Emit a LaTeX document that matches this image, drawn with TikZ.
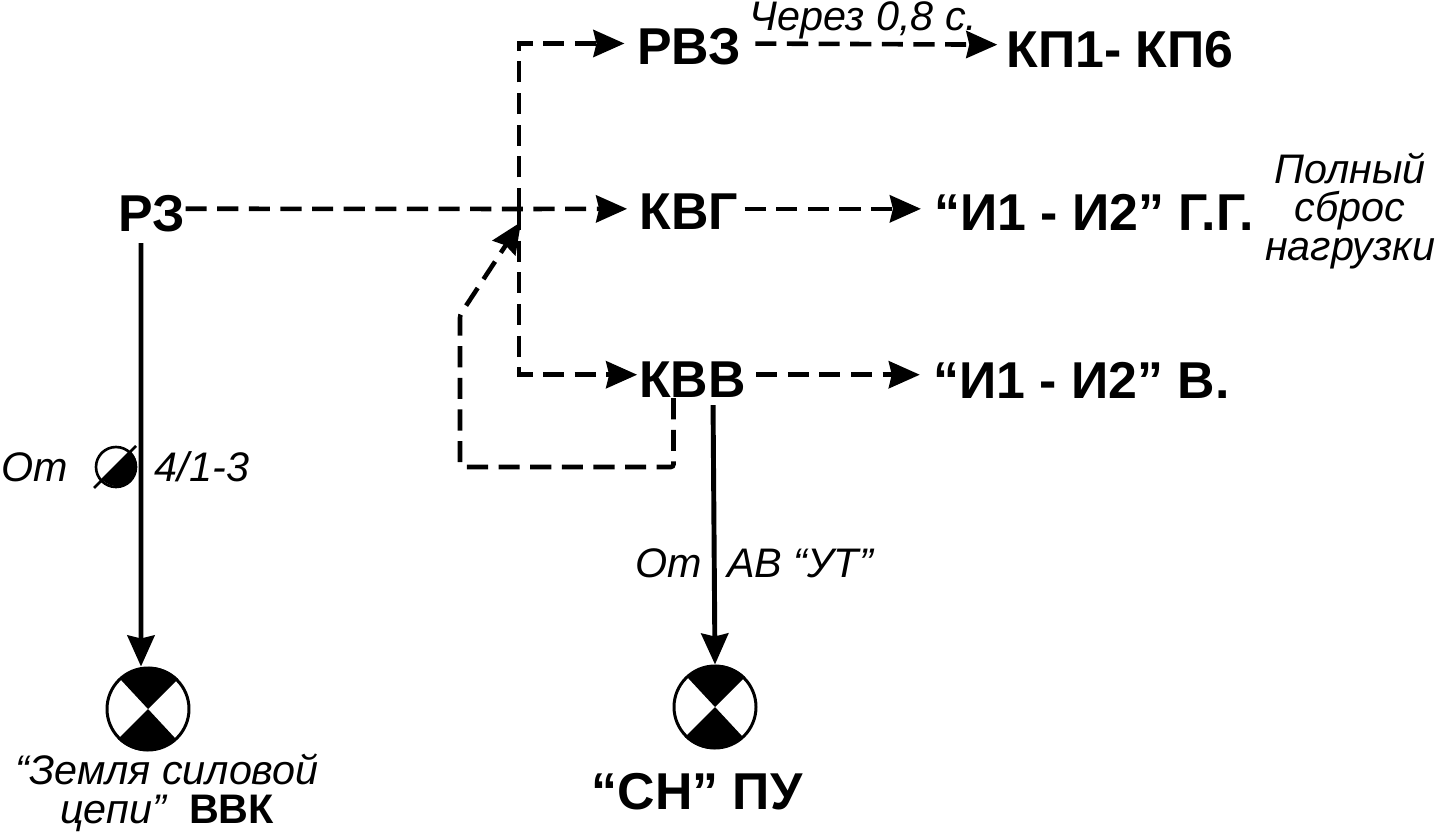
\documentclass[tikz,border=0pt]{standalone}
\usepackage{fontspec}
\setmainfont{Liberation Sans}
\usetikzlibrary{arrows.meta}
\tikzset{
  boldlbl/.style={inner sep=0pt, font=\fontsize{29.5}{32}\selectfont\bfseries},
  itlbl/.style={inner sep=0pt, align=center, font=\fontsize{23.5}{22}\selectfont\itshape},
  dashline/.style={line width=2.6pt, dash pattern=on 12pt off 6pt, -{Stealth[length=0.62cm,width=0.54cm,inset=0.06cm]}},
  solidline/.style={line width=2.8pt, -{Stealth[length=0.62cm,width=0.54cm,inset=0.06cm]}},
  lamp/.style={circle, draw, line width=1.7pt, inner sep=0pt, minimum size=1.64cm},
}
\begin{document}
\begin{tikzpicture}
\useasboundingbox (0,0) rectangle (28.7,16.62);

% relays
\node[boldlbl] (rz) at (3.04,12.34) {РЗ};
\node[boldlbl] (rvz) at (13.78,15.68) {РВЗ};
\node[boldlbl] (kp) at (22.4,15.62) {КП1- КП6};
\node[boldlbl] (kvg) at (13.78,12.38) {КВГ};
\node[boldlbl] (ivg) at (21.88,12.38) {“И1 - И2” Г.Г.};
\node[boldlbl] (kvv) at (13.85,9.02) {КВВ};
\node[boldlbl] (iv) at (21.63,9.02) {“И1 - И2” В.};

% italic labels
\node[itlbl] (delay) at (17.27,16.22) {Через 0,8 с.};
\node[itlbl] (sbros) at (27.0,12.4) {Полный\\сброс\\нагрузки};
\node[itlbl] (ot1) at (0.7,7.28) {От};
\node[itlbl] (num) at (4.04,7.28) {4/1-3};
\node[itlbl] (ot2) at (13.38,5.36) {От};
\node[itlbl] (ab) at (16.0,5.36) {АВ “УТ”};

% lamps
\node[lamp] (lampz) at (2.96,2.44) {};
\node[lamp] (lamps) at (14.3,2.48) {};
\foreach \lampname in {lampz,lamps}
  \foreach \a in {45,225}
    \fill (\lampname.center) -- (\lampname.\a) arc[start angle=\a, delta angle=90, radius=0.82cm] -- cycle;

\node[itlbl] (zem) at (3.34,0.76) {“Земля силовой\\цепи”~~{\upshape\bfseries ВВК}};
\node[boldlbl] (sn) at (13.94,0.78) {“СН” ПУ};

% half filled contact
\node[circle, draw, line width=1.5pt, inner sep=0pt, minimum size=0.8cm] (half) at (2.32,7.28) {};
\fill (half.45) arc[start angle=45, end angle=-135, radius=0.4cm] -- cycle;
\draw[line width=1.5pt] ([shift={(-0.44,-0.42)}]half.center) -- ([shift={(0.4,0.42)}]half.center);

% dashed connectors
\coordinate (jn) at (10.38,12.44);
\coordinate (fbl) at (9.2,7.28);
\coordinate (fbt) at (9.2,10.32);
\coordinate (fbe) at (10.42,12.18);

\draw[dashline, shorten >=7pt] ([yshift=3pt]rz.east) -- (jn) -- ([yshift=1.8pt]kvg.west);
\draw[dashline, shorten >=7pt] (jn) |- ([yshift=2pt]rvz.west);
\draw[dashline, shorten >=1pt] (jn) |- ([yshift=3pt]kvv.west);
\draw[dashline, shorten <=8pt, shorten >=5pt] ([yshift=2pt]rvz.east) -- ([yshift=3pt]kp.west);
\draw[dashline, shorten <=3.4pt, shorten >=7.5pt] ([yshift=1.8pt]kvg.east) -- ([yshift=1.8pt]ivg.west);
\draw[dashline, shorten <=5.7pt, shorten >=7.5pt] ([yshift=3pt]kvv.east) -- ([yshift=3pt]iv.west);
\draw[dashline, rounded corners=1.5pt] ([xshift=-0.38cm]kvv.south) |- (fbl) -- (fbt) -- (fbe);

% solid connectors
\draw[solidline, shorten <=6pt] ([xshift=-0.22cm]rz.south) -- ([xshift=-0.14cm]lampz.north);
\draw[solidline, shorten <=4pt] ([xshift=0.41cm]kvv.south) -- (lamps.north);

\end{tikzpicture}
\end{document}
